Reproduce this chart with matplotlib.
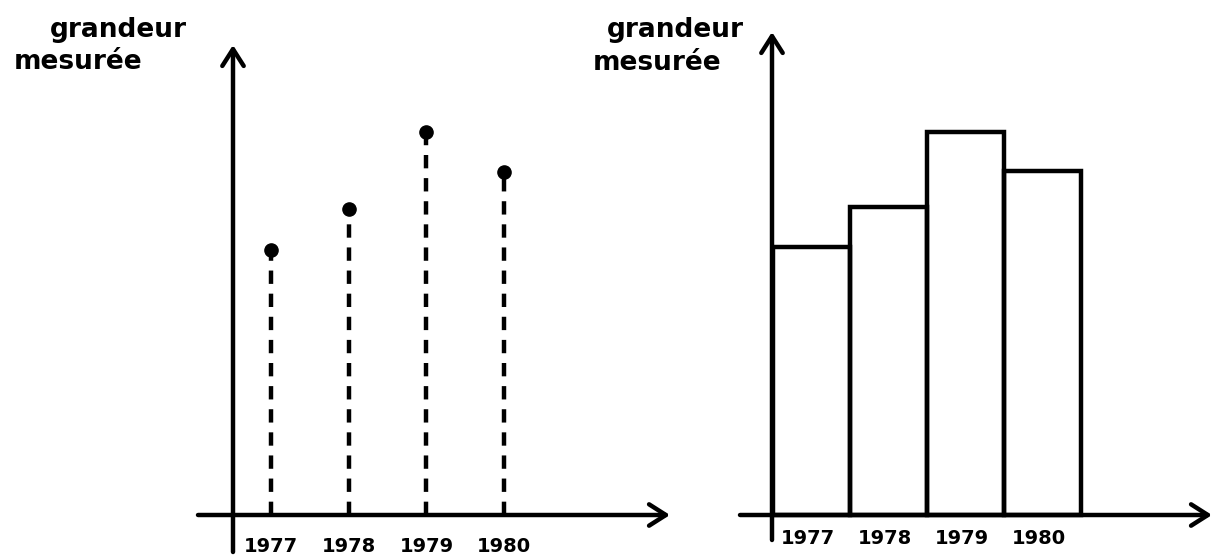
import matplotlib.pyplot as plt

years = [1977, 1978, 1979, 1980]
year_labels = ['1977', '1978', '1979', '1980']
values_left = [26.5, 30.6, 38.3, 34.3]
values_right = [26.8, 30.8, 38.3, 34.4]

W, H = 1214, 559
fig = plt.figure(figsize=(W / 100, H / 100), dpi=100)
fig.patch.set_facecolor('white')

lw = 3.2
arrow = dict(arrowstyle='->,head_length=0.55,head_width=0.35', lw=lw, color='black',
             shrinkA=0, shrinkB=0, mutation_scale=22)

# ---- panneau gauche : diagramme en bâtons ----
ax1 = fig.add_axes([0, 0, 700 / W, 1])
ax1.set_xlim(1977 - 271 / 77.7, 1977 + (700 - 271) / 77.7)
ax1.set_ylim((515 - H) / 10, 51.5)
ax1.axis('off')

x0 = 1977 - 38 / 77.7
ax1.annotate('', xy=(x0, 47), xytext=(x0, -3.7), arrowprops=arrow, annotation_clip=False)
ax1.annotate('', xy=(1977 + (670 - 271) / 77.7, 0), xytext=(1977 - 73 / 77.7, 0),
             arrowprops=arrow, annotation_clip=False)

ax1.vlines(years, 0, values_left, colors='black', lw=lw, linestyles=(0, (3, 2.2)))
ax1.plot(years, values_left, 'o', color='black', ms=9.5)
for yr, lab in zip(years, year_labels):
    ax1.text(yr, -3.2, lab, ha='center', va='center', fontsize=14, fontweight='bold')

# ---- panneau droit : histogramme ----
ax2 = fig.add_axes([700 / W, 0, 1 - 700 / W, 1])
ax2.set_xlim(1977 + (700 - 811.5) / 77, 1977 + (W - 811.5) / 77)
ax2.set_ylim((515 - H) / 10, 51.5)
ax2.axis('off')

ax2.bar(years, values_right, width=1, facecolor='none', edgecolor='black', lw=lw)
x1 = 1977 - 39.5 / 77
ax2.annotate('', xy=(x1, 48.3), xytext=(x1, -2.5), arrowprops=arrow, annotation_clip=False)
ax2.annotate('', xy=(1977 + (1212 - 811.5) / 77, 0), xytext=(1977 + (740 - 811.5) / 77, 0),
             arrowprops=arrow, annotation_clip=False)
for yr, lab in zip(years, year_labels):
    ax2.text(yr - 0.05, -2.3, lab, ha='center', va='center', fontsize=14, fontweight='bold')

# ---- titres des axes ----
def label(x, y, s):
    fig.text(x / W, 1 - y / H, s, ha='center', va='center', fontsize=19, fontweight='bold')

label(118, 30, 'grandeur')
label(78, 62, 'mesurée')
label(675, 30, 'grandeur')
label(657, 63, 'mesurée')

fig.savefig('out.png', dpi=100)
